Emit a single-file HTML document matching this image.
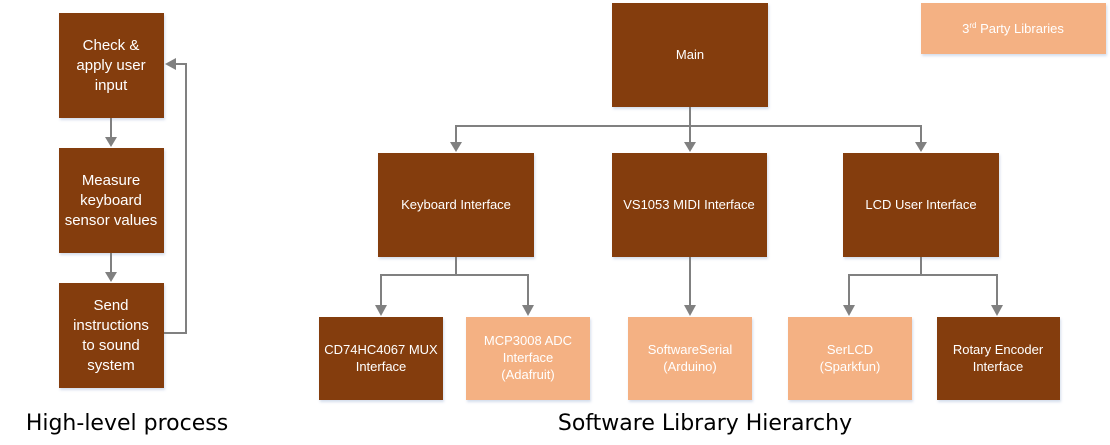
<!DOCTYPE html>
<html><head><meta charset="utf-8"><style>
html,body{margin:0;padding:0;background:#fff;width:1110px;height:445px;overflow:hidden}
svg{display:block}
.b{fill:#843C0C}.p{fill:#F4B183}
text{font-family:"Liberation Sans",sans-serif;fill:#fff;text-anchor:middle}
.s{font-size:13px}.l{font-size:15px}
.c{font-family:"DejaVu Sans",sans-serif;fill:#000;font-size:22px}
line,path{stroke:#808080;stroke-width:2;fill:none}
.ah{fill:#808080;stroke:none}
</style></head><body>
<svg width="1110" height="445" viewBox="0 0 1110 445">
<defs><filter id="sh" x="-5%" y="-5%" width="115%" height="115%"><feDropShadow dx="1" dy="2" stdDeviation="1.2" flood-color="#9fb4d6" flood-opacity="0.45"/></filter></defs>
<g filter="url(#sh)">
<rect class="b" x="59" y="13" width="105" height="105"/>
<rect class="b" x="59" y="148" width="105" height="105"/>
<rect class="b" x="59" y="283" width="105" height="105"/>
</g>
<text class="l" x="111" y="50">Check &amp;</text>
<text class="l" x="111" y="70">apply user</text>
<text class="l" x="111" y="90">input</text>
<text class="l" x="111" y="185">Measure</text>
<text class="l" x="111" y="205">keyboard</text>
<text class="l" x="111" y="225">sensor values</text>
<text class="l" x="111" y="310">Send</text>
<text class="l" x="111" y="330">instructions</text>
<text class="l" x="111" y="350">to sound</text>
<text class="l" x="111" y="370">system</text>
<line x1="111" y1="118" x2="111" y2="138"/><polygon class="ah" points="105,137 117,137 111,147"/>
<line x1="111" y1="253" x2="111" y2="273"/><polygon class="ah" points="105,272 117,272 111,282"/>
<path d="M164,333 H186 V64 H175"/><polygon class="ah" points="176,58 176,70 165,64"/>
<text class="c" x="127" y="430">High-level process</text>
<g filter="url(#sh)">
<rect class="b" x="612" y="3" width="156" height="104"/>
<rect class="p" x="921" y="3" width="185" height="51"/>
<rect class="b" x="378" y="153" width="156" height="104"/>
<rect class="b" x="612" y="153" width="155" height="104"/>
<rect class="b" x="843" y="153" width="156" height="104"/>
<rect class="b" x="319" y="317" width="124" height="83"/>
<rect class="p" x="466" y="317" width="124" height="83"/>
<rect class="p" x="628" y="317" width="124" height="83"/>
<rect class="p" x="788" y="317" width="124" height="83"/>
<rect class="b" x="937" y="317" width="123" height="83"/>
</g>
<text class="s" x="690" y="59">Main</text>
<text class="s" x="1013" y="33">3<tspan font-size="8" dy="-5">rd</tspan><tspan dy="5"> Party Libraries</tspan></text>
<text class="s" x="456" y="209">Keyboard Interface</text>
<text class="s" x="689" y="209">VS1053 MIDI Interface</text>
<text class="s" x="921" y="209">LCD User Interface</text>
<text class="s" x="381" y="354">CD74HC4067 MUX</text>
<text class="s" x="381" y="371">Interface</text>
<text class="s" x="528" y="345">MCP3008 ADC</text>
<text class="s" x="528" y="362">Interface</text>
<text class="s" x="528" y="379">(Adafruit)</text>
<text class="s" x="690" y="354">SoftwareSerial</text>
<text class="s" x="690" y="371">(Arduino)</text>
<text class="s" x="850" y="354">SerLCD</text>
<text class="s" x="850" y="371">(Sparkfun)</text>
<text class="s" x="998" y="354">Rotary Encoder</text>
<text class="s" x="998" y="371">Interface</text>
<line x1="690" y1="107" x2="690" y2="126"/>
<path d="M456,143 V126 H921 V143"/>
<line x1="690" y1="126" x2="690" y2="143"/>
<polygon class="ah" points="450,142 462,142 456,152"/>
<polygon class="ah" points="684,142 696,142 690,152"/>
<polygon class="ah" points="915,142 927,142 921,152"/>
<line x1="456" y1="257" x2="456" y2="275"/>
<path d="M381,306 V275 H528 V306"/>
<polygon class="ah" points="375,305 387,305 381,316"/>
<polygon class="ah" points="522,305 534,305 528,316"/>
<line x1="690" y1="257" x2="690" y2="306"/>
<polygon class="ah" points="684,305 696,305 690,316"/>
<line x1="921" y1="257" x2="921" y2="275"/>
<path d="M849,306 V275 H997 V306"/>
<polygon class="ah" points="843,305 855,305 849,316"/>
<polygon class="ah" points="991,305 1003,305 997,316"/>
<text class="c" x="705" y="430">Software Library Hierarchy</text>
</svg>
</body></html>
